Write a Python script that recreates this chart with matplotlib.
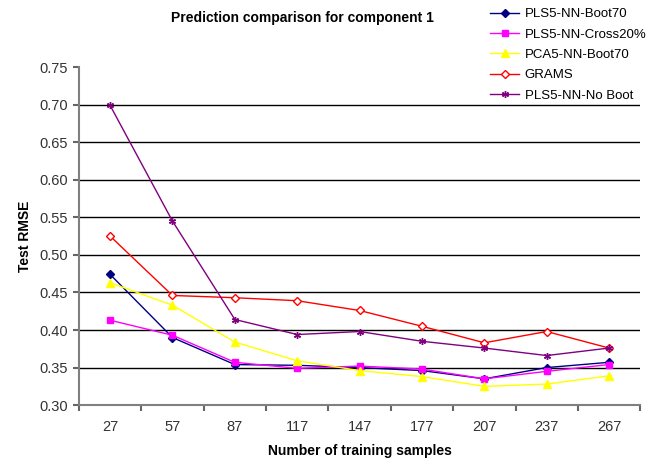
import numpy as np
import matplotlib
matplotlib.use('Agg')
import matplotlib.pyplot as plt

plt.rcParams['font.family'] = ['Liberation Sans', 'DejaVu Sans']

samples = ['27', '57', '87', '117', '147', '177', '207', '237', '267']
pls_boot70 = [0.474, 0.390, 0.354, 0.353, 0.350, 0.346, 0.335, 0.350, 0.357]
pls_cross20 = [0.413, 0.393, 0.357, 0.349, 0.352, 0.348, 0.335, 0.345, 0.354]
pca_boot70 = [0.463, 0.433, 0.384, 0.359, 0.346, 0.338, 0.325, 0.328, 0.339]
grams = [0.525, 0.446, 0.443, 0.439, 0.426, 0.405, 0.383, 0.398, 0.376]
pls_noboot = [0.699, 0.545, 0.414, 0.394, 0.398, 0.385, 0.376, 0.366, 0.376]

fig = plt.figure(figsize=(6.69, 4.63), dpi=100)
ax = fig.add_axes([0.118, 0.125, 0.839, 0.730])

x = np.arange(len(samples))
h1, = ax.plot(x, pls_boot70, color='#000080', lw=1, marker='D', ms=4, label='PLS5-NN-Boot70')
h2, = ax.plot(x, pls_cross20, color='#FF00FF', lw=1, marker='s', ms=5, label='PLS5-NN-Cross20%')
h3, = ax.plot(x, pca_boot70, color='#FFFF00', lw=1, marker='^', ms=6, label='PCA5-NN-Boot70')
h4, = ax.plot(x, grams, color='#FF0000', lw=1, marker='D', ms=4, mfc='white', mew=1, label='GRAMS')
h5, = ax.plot(x, pls_noboot, color='#800080', lw=1, marker=(6, 2, 0), ms=5, label='PLS5-NN-No Boot')

ax.set_xlim(-0.5, len(samples) - 0.5)
ax.set_ylim(0.30, 0.75)
ax.set_yticks(np.arange(0.30, 0.751, 0.05))
ax.set_yticklabels(['%.2f' % v for v in np.arange(0.30, 0.751, 0.05)], fontsize=10.5, color='#333333')
for v in np.arange(0.35, 0.701, 0.05):
    ax.axhline(v, color='black', lw=1, zorder=0)

ax.set_xticks(np.arange(-0.5, len(samples), 1.0))
ax.set_xticklabels([])
ax.set_xticks(x, minor=True)
ax.set_xticklabels(samples, minor=True, fontsize=10.5, color='#333333')
ax.tick_params(axis='x', which='minor', length=0, pad=11)
ax.tick_params(axis='x', which='major', length=4, color='#666666', width=1.5)
ax.tick_params(axis='y', length=4, color='#666666', width=1.5, pad=4)

for s in ['top', 'right']:
    ax.spines[s].set_visible(False)
for s in ['left', 'bottom']:
    ax.spines[s].set_color('#808080')
    ax.spines[s].set_linewidth(1.5)

ax.set_ylabel('Test RMSE', fontsize=10, fontweight='bold', labelpad=5)
ax.set_xlabel('Number of training samples', fontsize=10, fontweight='bold', labelpad=7)

fig.text(0.452, 0.962, 'Prediction comparison for component 1', ha='center', va='center',
         fontsize=10, fontweight='bold')

leg = fig.legend(handles=[h1, h2, h3, h4, h5], loc='upper left', bbox_to_anchor=(0.728, 0.99),
                 frameon=False, fontsize=9.5, handlelength=2.2, labelspacing=0.62,
                 borderaxespad=0, handletextpad=0.4, borderpad=0.25)

fig.savefig('out.png', dpi=100)
